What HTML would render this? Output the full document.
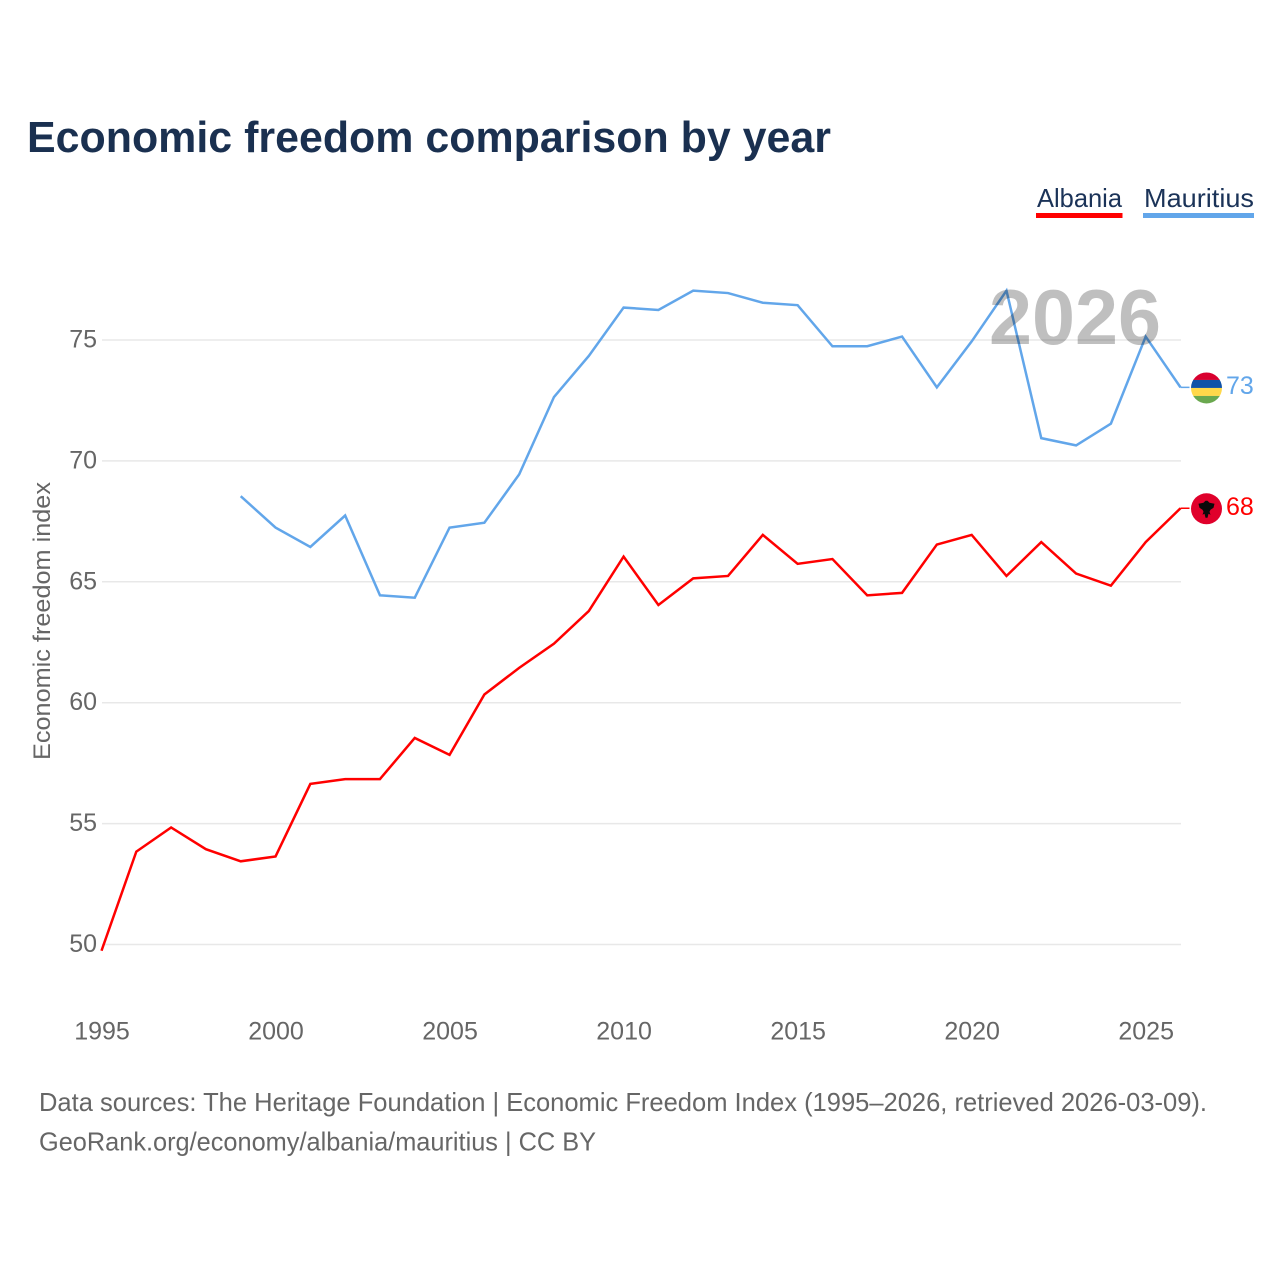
<!DOCTYPE html>
<html lang="en">
<head>
<meta charset="utf-8">
<title>Economic freedom comparison by year</title>
<style>
html,body{margin:0;padding:0;background:#fff;width:1280px;height:1280px;overflow:hidden}
svg{display:block}
text{font-family:"Liberation Sans",sans-serif}
</style>
</head>
<body>
<svg id="chart" width="1280" height="1280" viewBox="0 0 1280 1280" xmlns="http://www.w3.org/2000/svg">
  <defs>
    <clipPath id="flag-clip-mauritius"><circle id="clip-m" r="15.5"></circle></clipPath>
    <clipPath id="flag-clip-albania"><circle id="clip-a" r="15.5"></circle></clipPath>
  </defs>
  <text x="27" y="152" font-size="44" font-weight="700" fill="#1a3050" textLength="804" lengthAdjust="spacingAndGlyphs">Economic freedom comparison by year</text>

  <text x="1037" y="207" font-size="26" fill="#1b3358" textLength="85" lengthAdjust="spacingAndGlyphs">Albania</text>
  <rect x="1036" y="213" width="86.5" height="5" fill="#ff0000"></rect>
  <text x="1144" y="207" font-size="26" fill="#1b3358" textLength="110" lengthAdjust="spacingAndGlyphs">Mauritius</text>
  <rect x="1143" y="213" width="111" height="5" fill="#62a6ea"></rect>

  <g id="grid"></g>
  <g id="y-ticks"></g>
  <g id="x-ticks"></g>
  <text transform="translate(50,621) rotate(-90)" text-anchor="middle" font-size="24" fill="#666666" textLength="278" lengthAdjust="spacingAndGlyphs">Economic freedom index</text>
  <g id="series" transform="translate(-0.5,-1)"></g>
  <text x="989" y="344" font-size="78" font-weight="700" fill="#000000" fill-opacity="0.25" textLength="172" lengthAdjust="spacingAndGlyphs">2026</text>
  <g id="ends" transform="translate(-0.5,-1)"></g>

  <text x="39" y="1111" font-size="26" fill="#666666" textLength="1168" lengthAdjust="spacingAndGlyphs">Data sources: The Heritage Foundation | Economic Freedom Index (1995–2026, retrieved 2026-03-09).</text>
  <text x="39" y="1150.5" font-size="26" fill="#666666" textLength="557" lengthAdjust="spacingAndGlyphs">GeoRank.org/economy/albania/mauritius | CC BY</text>
</svg>
<script>
const albaniaYears = [1995,1996,1997,1998,1999,2000,2001,2002,2003,2004,2005,2006,2007,2008,2009,2010,2011,2012,2013,2014,2015,2016,2017,2018,2019,2020,2021,2022,2023,2024,2025,2026];
const albaniaValues = [49.7,53.8,54.8,53.9,53.4,53.6,56.6,56.8,56.8,58.5,57.8,60.3,61.4,62.4,63.75,66.0,64.0,65.1,65.2,66.9,65.7,65.9,64.4,64.5,66.5,66.9,65.2,66.6,65.3,64.8,66.6,68.0];
const mauritiusYears = [1999,2000,2001,2002,2003,2004,2005,2006,2007,2008,2009,2010,2011,2012,2013,2014,2015,2016,2017,2018,2019,2020,2021,2022,2023,2024,2025,2026];
const mauritiusValues = [68.5,67.2,66.4,67.7,64.4,64.3,67.2,67.4,69.4,72.6,74.3,76.3,76.2,77.0,76.9,76.5,76.4,74.7,74.7,75.1,73.0,74.9,77.0,70.9,70.6,71.5,75.1,73.0];
const yTickValues = [50,55,60,65,70,75];
const xTickValues = [1995,2000,2005,2010,2015,2020,2025];

const SVG_NS = 'http://www.w3.org/2000/svg';
function xScale(year) { return 102 + (year - 1995) * (1181 - 102) / 31; }
function yScale(value) { return 944.5 - (value - 50) * (944.5 - 340) / 25; }
function make(tag, parent) {
  const el = document.createElementNS(SVG_NS, tag);
  parent.appendChild(el);
  return el;
}
function linePath(years, values) {
  return years.map(function (yr, i) {
    return (i ? 'L' : 'M') + xScale(yr).toFixed(2) + ' ' + yScale(values[i]).toFixed(2);
  }).join(' ');
}

const gridGroup = document.getElementById('grid');
const yTickGroup = document.getElementById('y-ticks');
yTickValues.forEach(function (v) {
  const line = make('line', gridGroup);
  
  
  line.setAttribute('x1', xScale(1995));
  line.setAttribute('x2', xScale(2026));
  line.setAttribute('y1', yScale(v));
  line.setAttribute('y2', yScale(v));
  line.setAttribute('stroke', '#e8e8e8');
  line.setAttribute('stroke-width', '1.5');
  const label = make('text', yTickGroup);
  
  
  label.setAttribute('x', 97);
  label.setAttribute('y', yScale(v) + 7.5);
  label.setAttribute('text-anchor', 'end');
  label.setAttribute('font-size', '25');
  label.setAttribute('fill', '#666666');
  label.textContent = String(v);
});

const xTickGroup = document.getElementById('x-ticks');
xTickValues.forEach(function (yr) {
  const label = make('text', xTickGroup);
  
  
  label.setAttribute('x', xScale(yr));
  label.setAttribute('y', 1039.5);
  label.setAttribute('text-anchor', 'middle');
  label.setAttribute('font-size', '25');
  label.setAttribute('fill', '#666666');
  label.textContent = String(yr);
});

const seriesGroup = document.getElementById('series');
const albaniaLine = make('path', seriesGroup);


albaniaLine.setAttribute('d', linePath(albaniaYears, albaniaValues));
albaniaLine.setAttribute('fill', 'none');
albaniaLine.setAttribute('stroke', '#ff0000');
albaniaLine.setAttribute('stroke-width', '2.5');

const mauritiusLine = make('path', seriesGroup);


mauritiusLine.setAttribute('d', linePath(mauritiusYears, mauritiusValues));
mauritiusLine.setAttribute('fill', 'none');
mauritiusLine.setAttribute('stroke', '#62a6ea');
mauritiusLine.setAttribute('stroke-width', '2.5');

const endsGroup = document.getElementById('ends');
const endX = xScale(2026);
const flagX = endX + 26;
const labelX = endX + 45.5;

const mValue = mauritiusValues[mauritiusValues.length - 1];
const mY = yScale(mValue);
const mConn = make('line', endsGroup);


mConn.setAttribute('x1', endX);
mConn.setAttribute('x2', endX + 9);
mConn.setAttribute('y1', mY);
mConn.setAttribute('y2', mY);
mConn.setAttribute('stroke', '#62a6ea');
mConn.setAttribute('stroke-width', '1.5');
document.getElementById('clip-m').setAttribute('cx', flagX);
document.getElementById('clip-m').setAttribute('cy', mY + 0.6);
const mFlag = make('g', endsGroup);


mFlag.setAttribute('clip-path', 'url(#flag-clip-mauritius)');
['#d9002f', '#0f52a8', '#ffd84a', '#6aa84f'].forEach(function (col, i) {
  const stripe = make('rect', mFlag);
  
  
  stripe.setAttribute('x', flagX - 16);
  stripe.setAttribute('y', mY + 0.6 - 16 + i * 8);
  stripe.setAttribute('width', 32);
  stripe.setAttribute('height', 8);
  stripe.setAttribute('fill', col);
});
const mLabel = make('text', endsGroup);


mLabel.setAttribute('x', labelX);
mLabel.setAttribute('y', mY + 6.5);
mLabel.setAttribute('font-size', '25');
mLabel.setAttribute('fill', '#62a6ea');
mLabel.textContent = String(mValue);

const aValue = albaniaValues[albaniaValues.length - 1];
const aY = yScale(aValue);
const aConn = make('line', endsGroup);


aConn.setAttribute('x1', endX);
aConn.setAttribute('x2', endX + 9);
aConn.setAttribute('y1', aY);
aConn.setAttribute('y2', aY);
aConn.setAttribute('stroke', '#ff0000');
aConn.setAttribute('stroke-width', '1.5');
const aFlag = make('circle', endsGroup);


aFlag.setAttribute('cx', flagX);
aFlag.setAttribute('cy', aY + 0.5);
aFlag.setAttribute('r', 15.5);
aFlag.setAttribute('fill', '#e0002b');
const eagle = make('path', endsGroup);


eagle.setAttribute('transform', 'translate(' + flagX + ',' + (aY + 0.5) + ')');
eagle.setAttribute('d', 'M-8 -5 L-3 -6 L-1 -8 L1 -8 L3 -6 L8 -5 L7 -1 L4 1 L3 3 L4 6 L2 5 L1 9 L-1 9 L-2 5 L-4 6 L-3 3 L-4 1 L-7 -1 Z');
eagle.setAttribute('fill', '#0a0a0a');
const aLabel = make('text', endsGroup);


aLabel.setAttribute('x', labelX);
aLabel.setAttribute('y', aY + 6.5);
aLabel.setAttribute('font-size', '25');
aLabel.setAttribute('fill', '#ff0000');
aLabel.textContent = String(aValue);
</script>
</body>
</html>
